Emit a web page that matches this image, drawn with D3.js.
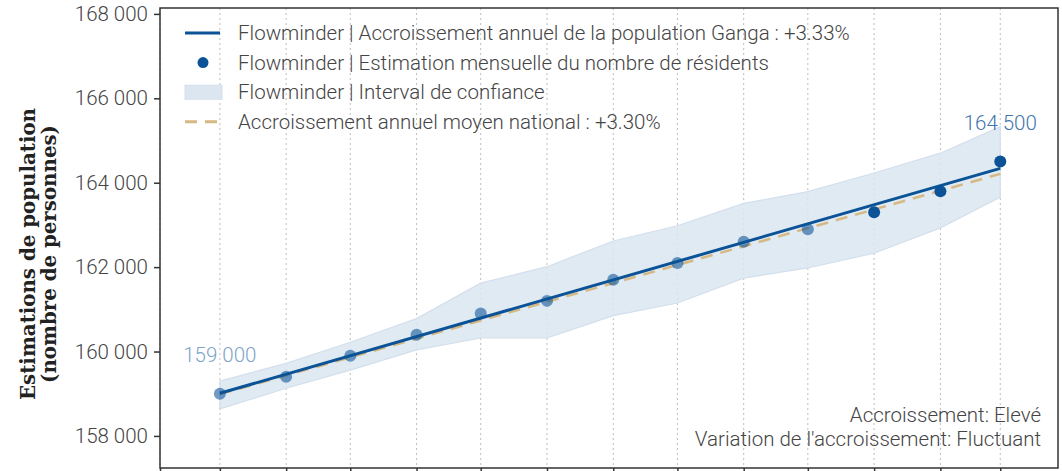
<!DOCTYPE html>
<html>
<head>
<meta charset="utf-8">
<script src="https://cdn.jsdelivr.net/npm/d3@7"></script>
<style>
  html, body { margin: 0; padding: 0; background: #fff; }
  svg { display: block; }
</style>
</head>
<body>
<svg id="chart" width="1062" height="471"></svg>
<script>
// ---- data ----
const months = ["2022-03-01","2022-04-01","2022-05-01","2022-06-01","2022-07-01","2022-08-01","2022-09-01",
                "2022-10-01","2022-11-01","2022-12-01","2023-01-01","2023-02-01","2023-03-01"];
const residents = [159000,159400,159900,160400,160900,161200,161700,162100,162600,162900,163300,163800,164500];
const ciUpper   = [159300,159720,160220,160780,161620,162010,162620,162980,163510,163790,164230,164700,165330];
const ciLower   = [158640,159130,159560,160040,160320,160320,160850,161150,161740,161980,162330,162930,163660];
const trendDates = ["2022-03-01","2023-03-01"];
const trendGanga = [159010,164340];
const trendNational = [158990,164210];
const yTicks = [158000,160000,162000,164000,166000,168000];
const xDomain = ["2022-02-01","2023-03-28"];
const legendLabels = [
  "Flowminder | Accroissement annuel de la population Ganga : +3.33%",
  "Flowminder | Estimation mensuelle du nombre de résidents",
  "Flowminder | Interval de confiance",
  "Accroissement annuel moyen national : +3.30%"
];
const yTitle = ["Estimations de population", "(nombre de personnes)"];
const notes = ["Accroissement: Elevé", "Variation de l'accroissement: Fluctuant"];
const firstLabel = "159 000", lastLabel = "164 500";

// ---- setup ----
const parse = d3.timeParse("%Y-%m-%d");
const W = 1062, H = 471;
const m = {left: 160, right: 4, top: 8, bottom: 3};
const svg = d3.select("#chart");
const x = d3.scaleTime().domain(xDomain.map(parse)).range([m.left, W - m.right]);
const y = d3.scaleLinear().domain([157240, 168140]).range([H - m.bottom, m.top]);

const blue = "#0b5396";
const tan = "#d6b883";
const textCol = "#444";
const sans = "Roboto, 'Noto Sans', sans-serif";
const fs = 20.5;

const data = months.map((d, i) => ({date: parse(d), v: residents[i], up: ciUpper[i], lo: ciLower[i]}));

// grid (vertical dotted)
const monthTicks = d3.timeMonth.range(parse(xDomain[0]), d3.timeDay.offset(parse(xDomain[1]), 1));
svg.append("g").selectAll("line").data(monthTicks).join("line")
  .attr("x1", d => x(d)).attr("x2", d => x(d))
  .attr("y1", m.top).attr("y2", H - m.bottom)
  .attr("stroke", "#bdbdbd").attr("stroke-width", 1).attr("stroke-dasharray", "2,3");

// confidence band
svg.append("path").datum(data)
  .attr("d", d3.area().x(d => x(d.date)).y0(d => y(d.lo)).y1(d => y(d.up)))
  .attr("fill", "#dbe6f1").attr("fill-opacity", 0.85)
  .attr("stroke", "#d3dfec").attr("stroke-width", 1.2);

// national trend (dashed)
const tData = trendDates.map((d, i) => ({date: parse(d), g: trendGanga[i], n: trendNational[i]}));
svg.append("path").datum(tData)
  .attr("d", d3.line().x(d => x(d.date)).y(d => y(d.n)))
  .attr("fill", "none").attr("stroke", tan).attr("stroke-width", 2.5).attr("stroke-dasharray", "12,8");

// Ganga trend
svg.append("path").datum(tData)
  .attr("d", d3.line().x(d => x(d.date)).y(d => y(d.g)))
  .attr("fill", "none").attr("stroke", blue).attr("stroke-width", 3);

// points
svg.append("g").selectAll("circle").data(data).join("circle")
  .attr("cx", d => x(d.date)).attr("cy", d => y(d.v)).attr("r", 6)
  .attr("fill", blue)
  .attr("fill-opacity", (d, i) => i >= data.length - 3 ? 1 : 0.58);

// end labels
svg.append("text").attr("x", x(data[0].date)).attr("y", y(data[0].v) - 32)
  .attr("text-anchor", "middle").style("font-family", sans).style("font-size", fs + "px").style("font-weight", 300)
  .attr("fill", "#7ea3c8").text(firstLabel);
svg.append("text").attr("x", x(data[data.length-1].date)).attr("y", y(data[data.length-1].v) - 32)
  .attr("text-anchor", "middle").style("font-family", sans).style("font-size", fs + "px").style("font-weight", 300)
  .attr("fill", "#3f76ab").text(lastLabel);

// frame
svg.append("rect").attr("x", m.left).attr("y", m.top)
  .attr("width", W - m.right - m.left).attr("height", H - m.bottom - m.top)
  .attr("fill", "none").attr("stroke", "#333").attr("stroke-width", 1.5);

// y axis
const yAxis = d3.axisLeft(y).tickValues(yTicks).tickSize(6).tickPadding(6)
  .tickFormat(d => d3.format(",")(d).replace(/,/g, " "));
const gy = svg.append("g").attr("transform", `translate(${m.left},0)`).call(yAxis);
gy.select(".domain").remove();
gy.selectAll(".tick line").attr("stroke", "#333").attr("stroke-width", 1.5);
gy.selectAll(".tick text").style("font-family", sans).style("font-size", fs + "px").style("font-weight", 300).attr("fill", textCol);

// x axis ticks (no labels)
const xAxis = d3.axisBottom(x).tickValues(monthTicks).tickSize(6).tickFormat("");
const gx = svg.append("g").attr("transform", `translate(0,${H - m.bottom})`).call(xAxis);
gx.select(".domain").remove();
gx.selectAll(".tick line").attr("stroke", "#333").attr("stroke-width", 1.5);

// y title
const yt = svg.append("text").attr("transform", "translate(38,254) rotate(-90)")
  .attr("text-anchor", "middle")
  .style("font-family", "'DejaVu Serif', 'Liberation Serif', serif")
  .style("font-weight", "bold").style("font-size", "19.8px").attr("fill", "#222");
yTitle.forEach((t, i) => yt.append("tspan").attr("x", 0).attr("y", i === 0 ? -3 : 18).text(t));

// legend
const lg = svg.append("g").attr("transform", "translate(185,33)");
const rowH = 29.6;
legendLabels.forEach((t, i) => {
  const g = lg.append("g").attr("transform", `translate(0,${i * rowH})`);
  if (i === 0) g.append("line").attr("x1", 0).attr("x2", 35).attr("stroke", blue).attr("stroke-width", 3);
  if (i === 1) g.append("circle").attr("cx", 18).attr("r", 5.5).attr("fill", blue);
  if (i === 2) g.append("rect").attr("x", 0).attr("y", -7).attr("width", 37).attr("height", 14)
    .attr("fill", "#dbe6f1").attr("stroke", "#d3dfec");
  if (i === 3) g.append("line").attr("x1", 0).attr("x2", 35).attr("stroke", tan).attr("stroke-width", 3).attr("stroke-dasharray", "12,8");
  g.append("text").attr("x", 53).attr("dy", "0.35em")
    .style("font-family", sans).style("font-size", fs + "px").style("font-weight", 300)
    .attr("fill", textCol).text(t);
});

// notes
notes.forEach((t, i) => {
  svg.append("text").attr("x", 1041).attr("y", 415 + i * 24).attr("dy", "0.35em")
    .attr("text-anchor", "end")
    .style("font-family", sans).style("font-size", fs + "px").style("font-weight", 300)
    .attr("fill", textCol).text(t);
});
</script>
</body>
</html>
